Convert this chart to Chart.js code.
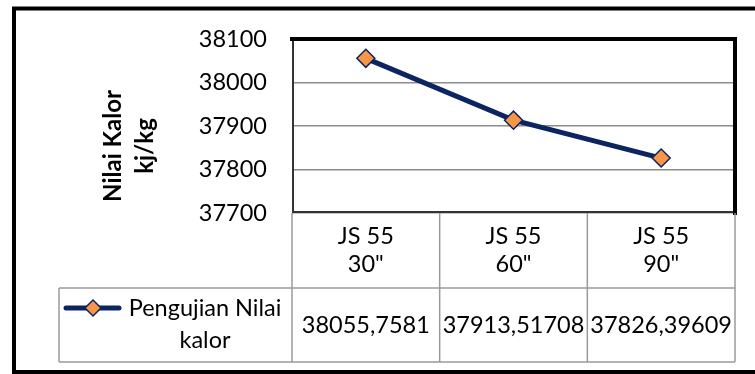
<!DOCTYPE html>
<html>
<head>
<meta charset="utf-8">
<script src="https://cdn.jsdelivr.net/npm/chart.js@4"></script>
<style>
  html, body { margin: 0; padding: 0; background: #fff; }
  #wrap { width: 755px; height: 374px; position: relative; }
</style>
</head>
<body>
<div id="wrap"><canvas id="c" width="755" height="374"></canvas></div>
<script>
// Categories (two text lines each), series values and axis settings
const categories = [['JS 55', '30"'], ['JS 55', '60"'], ['JS 55', '90"']];
const seriesName = ['Pengujian Nilai', 'kalor'];
const kalorValues = [38055.7581, 37913.51708, 37826.39609];
const yMin = 37700;
const yMax = 38100;
const yStep = 100;
const yTitle = ['Nilai Kalor', 'kj/kg'];

const FONT = 'Lato, "Open Sans", sans-serif';
const NAVY = '#0c2461';
const ORANGE = '#f79646';
const TABLE_LINE = '#9a9a9a';

// Decimal comma, as in the data table
const fmt = v => String(v).replace('.', ',');

const tablePlugin = {
  id: 'tableAndFrame',
  beforeDatasetsDraw(chart) {
    const { ctx, chartArea: a } = chart;
    ctx.save();
    ctx.lineCap = 'square';
    // thin left / bottom edges of the plot area
    ctx.strokeStyle = '#333';
    ctx.lineWidth = 2;
    ctx.beginPath();
    ctx.moveTo(a.left + 1, a.top);
    ctx.lineTo(a.left + 1, a.bottom - 1);
    ctx.lineTo(a.right, a.bottom - 1);
    ctx.stroke();
    // heavy top / right edges
    ctx.strokeStyle = '#000';
    ctx.lineWidth = 4;
    ctx.beginPath();
    ctx.moveTo(a.left, a.top);
    ctx.lineTo(a.right, a.top);
    ctx.lineTo(a.right, a.bottom);
    ctx.stroke();
    ctx.restore();
  },
  afterDraw(chart) {
    const { ctx, chartArea: a } = chart;
    const xs = chart.scales.x;
    const n = categories.length;
    const centers = categories.map((_, i) => xs.getPixelForValue(i));
    const bounds = [xs.left];
    for (let i = 0; i < n - 1; i++) bounds.push((centers[i] + centers[i + 1]) / 2);
    bounds.push(xs.right);

    const headBottom = 288;
    const rowBottom = 362;
    const legendLeft = 59;

    ctx.save();
    // data table grid
    ctx.strokeStyle = TABLE_LINE;
    ctx.lineWidth = 1.5;
    ctx.beginPath();
    bounds.forEach(x => { ctx.moveTo(x, a.bottom); ctx.lineTo(x, rowBottom); });
    ctx.moveTo(legendLeft, headBottom); ctx.lineTo(xs.right, headBottom);
    ctx.moveTo(legendLeft, rowBottom); ctx.lineTo(xs.right, rowBottom);
    ctx.moveTo(legendLeft, headBottom); ctx.lineTo(legendLeft, rowBottom);
    ctx.stroke();

    // category headers and values
    ctx.fillStyle = '#000';
    ctx.font = '23.5px ' + FONT;
    ctx.textAlign = 'center';
    ctx.textBaseline = 'middle';
    categories.forEach((lines, i) => {
      lines.forEach((t, j) => ctx.fillText(t, centers[i], 236 + j * 28));
      ctx.fillText(fmt(kalorValues[i]), centers[i], 325);
    });

    // legend key
    const ky = 308;
    ctx.strokeStyle = NAVY;
    ctx.lineWidth = 5;
    ctx.lineCap = 'round';
    ctx.beginPath();
    ctx.moveTo(66, ky); ctx.lineTo(119, ky);
    ctx.stroke();
    ctx.beginPath();
    ctx.moveTo(93, ky - 8); ctx.lineTo(101, ky); ctx.lineTo(93, ky + 8); ctx.lineTo(85, ky);
    ctx.closePath();
    ctx.fillStyle = ORANGE;
    ctx.fill();
    ctx.lineWidth = 1.5;
    ctx.stroke();
    ctx.fillStyle = '#000';
    ctx.fillText(seriesName[0], 205, ky);
    ctx.fillText(seriesName[1], 205, ky + 32);

    // rotated axis title
    ctx.save();
    ctx.translate(129, 146);
    ctx.rotate(-Math.PI / 2);
    ctx.font = 'bold 24px ' + FONT;
    ctx.fillText(yTitle[0], 0, -16);
    ctx.fillText(yTitle[1], 0, 16);
    ctx.restore();

    // outer frame
    ctx.strokeStyle = '#000';
    ctx.lineWidth = 4;
    ctx.lineCap = 'butt';
    ctx.beginPath();
    ctx.moveTo(760, 8.5);
    ctx.lineTo(14, 8.5);
    ctx.lineTo(14, 372);
    ctx.lineTo(760, 372);
    ctx.stroke();
    ctx.restore();
  }
};

new Chart(document.getElementById('c'), {
  type: 'line',
  data: {
    labels: categories,
    datasets: [{
      label: seriesName.join(' '),
      data: kalorValues,
      borderColor: NAVY,
      borderWidth: 5,
      pointStyle: 'rectRot',
      pointRadius: 9,
      pointHoverRadius: 9,
      pointBackgroundColor: ORANGE,
      pointBorderColor: NAVY,
      pointBorderWidth: 1.5,
      tension: 0,
      clip: false
    }]
  },
  options: {
    responsive: false,
    animation: false,
    events: [],
    layout: { padding: { left: 0, top: 37, right: 20, bottom: 161 } },
    plugins: { legend: { display: false }, tooltip: { enabled: false } },
    scales: {
      x: { type: 'category', display: false, offset: true },
      y: {
        min: yMin,
        max: yMax,
        afterFit(scale) { scale.width = 292; },
        ticks: {
          stepSize: yStep,
          color: '#000',
          font: { family: FONT, size: 23.5 },
          padding: 25,
          callback: v => String(v)
        },
        grid: { color: '#8c8c8c', lineWidth: 1.5, drawTicks: false },
        border: { display: false }
      }
    }
  },
  plugins: [tablePlugin]
});
</script>
</body>
</html>
